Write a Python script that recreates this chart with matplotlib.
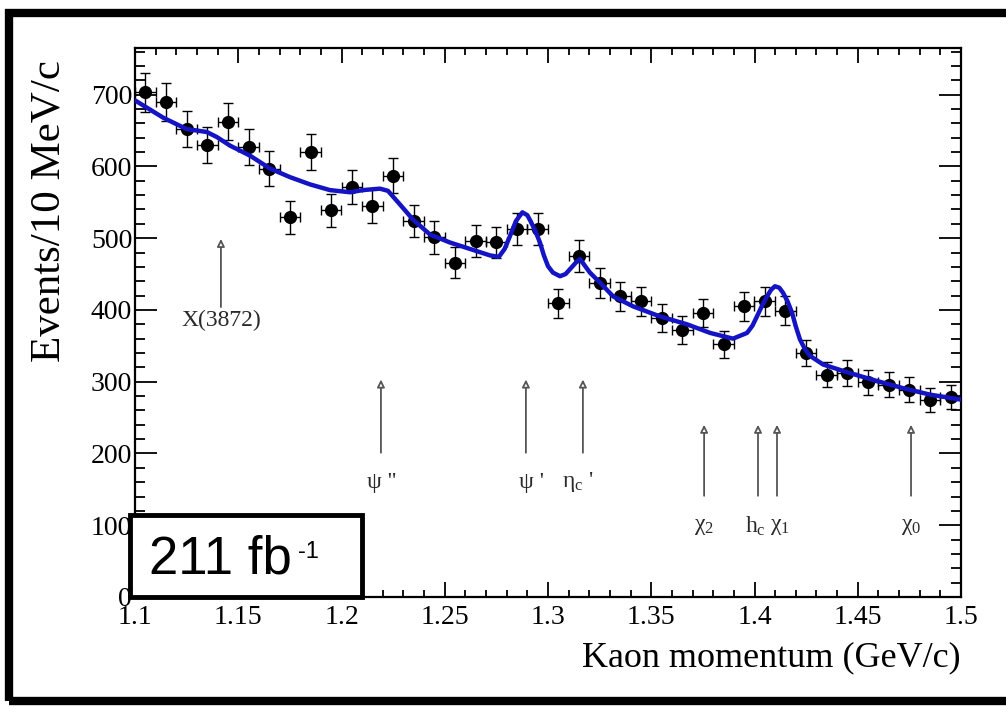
import numpy as np
import matplotlib
matplotlib.use("Agg")
import matplotlib.pyplot as plt
from matplotlib.patches import Rectangle

plt.rcParams['font.family'] = ['Liberation Serif', 'DejaVu Serif']
# upright greek letters in the state labels
plt.rcParams['mathtext.fontset'] = 'custom'
plt.rcParams['mathtext.rm'] = 'Liberation Serif'
plt.rcParams['mathtext.it'] = 'Liberation Serif'
plt.rcParams['mathtext.bf'] = 'Liberation Serif:bold'

# kaon momentum bins (10 MeV wide) and event counts
bin_centers = [1.105, 1.115, 1.125, 1.135, 1.145, 1.155, 1.165, 1.175, 1.185, 1.195,
               1.205, 1.215, 1.225, 1.235, 1.245, 1.255, 1.265, 1.275, 1.285, 1.295,
               1.305, 1.315, 1.325, 1.335, 1.345, 1.355, 1.365, 1.375, 1.385, 1.395,
               1.405, 1.415, 1.425, 1.435, 1.445, 1.455, 1.465, 1.475, 1.485, 1.495]
counts = [703, 690, 652, 630, 662, 627, 597, 529, 620, 539,
          571, 545, 587, 524, 501, 466, 496, 494, 513, 513,
          409, 475, 438, 419, 412, 389, 372, 396, 352, 405,
          412, 399, 340, 310, 312, 299, 296, 289, 274, 279]

# fit curve (signal peaks on smooth background)
fit_x = [1.100, 1.1136, 1.125, 1.1347, 1.1396, 1.146, 1.1557, 1.1654, 1.1751, 1.1847,
         1.1944, 1.2041, 1.2104, 1.2186, 1.2225, 1.2283, 1.2346, 1.2429, 1.2525, 1.2622,
         1.2719, 1.2762, 1.2790, 1.2816, 1.2845, 1.2876, 1.2900, 1.2917, 1.2940, 1.2961,
         1.2980, 1.3000, 1.3024, 1.3058, 1.3085, 1.3107, 1.3135, 1.3155, 1.3175, 1.3203,
         1.3252, 1.3315, 1.3412, 1.3542, 1.3673, 1.3785, 1.3896, 1.3964, 1.3990, 1.4012,
         1.4040, 1.4061, 1.4080, 1.4099, 1.4120, 1.4138, 1.4160, 1.4182, 1.4200, 1.4220,
         1.4245, 1.4269, 1.4332, 1.4462, 1.4593, 1.4719, 1.4850, 1.5000]
fit_y = [692, 668, 652, 648, 641, 629, 615, 597, 585, 575,
         567, 564, 567, 569, 566, 547, 526, 505, 494, 485,
         476, 474, 485, 503, 524, 536, 532, 523, 509, 494,
         476, 461, 452, 447, 450, 457, 466, 471, 463, 452,
         438, 419, 405, 391, 380, 368, 360, 368, 378, 391,
         408, 419, 428, 433, 431, 424, 412, 396, 377, 359,
         345, 336, 324, 312, 301, 291, 282, 275]

# charmonium states: label, position, arrow bottom/top, label height
states = ["X(3872)", "ψ ''", "ψ '", r"$\eta_c$ '",
          r"$\chi_2$", r"$h_c$", r"$\chi_1$", r"$\chi_0$"]
state_x = [1.1416, 1.2191, 1.2893, 1.3169, 1.3756, 1.4017, 1.4109, 1.4758]
arrow_lo = [404, 201, 201, 201, 141, 141, 141, 141]
arrow_hi = [499, 303, 303, 303, 240, 240, 240, 240]
label_y = [386, 160, 160, 160, 98, 98, 98, 98]
label_dx = [0, 0.0005, 0.0025, -0.0025, 0, -0.0015, 0.0015, 0]

fig = plt.figure(figsize=(10.06, 7.07), dpi=100)
ax = fig.add_axes([135 / 1006, 1 - 597 / 707, 826 / 1006, 549 / 707])

yerr = np.sqrt(counts)
ax.errorbar(bin_centers, counts, xerr=0.005, yerr=yerr, fmt='o', color='black',
            ms=8.5, elinewidth=1.0, capsize=3.5, capthick=1.0, zorder=3)
ax.plot(fit_x, fit_y, color='#1414c4', lw=3.2, solid_joinstyle='round',
        solid_capstyle='round', zorder=4)

for name, x, lo, hi, ly, dx in zip(states, state_x, arrow_lo, arrow_hi, label_y, label_dx):
    ax.annotate("", xy=(x, hi), xytext=(x, lo),
                arrowprops=dict(arrowstyle='-|>', fc='white', ec='#555555',
                                lw=1.3, mutation_scale=11, shrinkA=0, shrinkB=0))
    ax.text(x + dx, ly, name, ha='center', va='center', fontsize=17, color='#2a2a2a')

ax.set_xlim(1.1, 1.5)
ax.set_ylim(0, 765)
ax.set_xticks(np.arange(1.1, 1.501, 0.05))
ax.set_xticklabels(["1.1", "1.15", "1.2", "1.25", "1.3", "1.35", "1.4", "1.45", "1.5"])
ax.set_xticks(np.arange(1.1, 1.501, 0.01), minor=True)
ax.set_yticks(np.arange(0, 701, 100))
ax.set_yticks(np.arange(0, 761, 20), minor=True)

ax.tick_params(which='both', direction='in', top=True, right=True, width=1.3,
               labelsize=20, colors='black')
ax.tick_params(axis='y', which='major', length=16, pad=2)
ax.tick_params(axis='y', which='minor', length=7)
ax.tick_params(axis='x', which='major', length=11, pad=6)
ax.tick_params(axis='x', which='minor', length=5)
for s in ax.spines.values():
    s.set_linewidth(1.6)

ax.set_xlabel("Kaon momentum (GeV/c)", fontsize=26, loc='right', labelpad=8)
ax.set_ylabel("Events/10 MeV/c", fontsize=31)
ax.yaxis.set_label_coords(-0.081, 0.703)

# luminosity box in the lower left corner
ax.add_patch(Rectangle((-0.006, 0), 0.281, 0.149, transform=ax.transAxes,
                       fc='white', ec='black', lw=3.5, clip_on=False, zorder=6))
ax.text(0.017, 0.0437, "211 fb", transform=ax.transAxes, ha='left',
        va='baseline', fontsize=38, family='Liberation Sans', zorder=7)
ax.text(0.197, 0.071, "-1", transform=ax.transAxes, ha='left',
        va='baseline', fontsize=17, family='Liberation Sans', zorder=7)

# outer frame
fig.patches.append(Rectangle((9 / 1006, 6 / 707), 1.2, 1 - 19 / 707,
                             transform=fig.transFigure, fill=False, ec='black',
                             lw=6, clip_on=False))

fig.savefig("out.png", dpi=100)
